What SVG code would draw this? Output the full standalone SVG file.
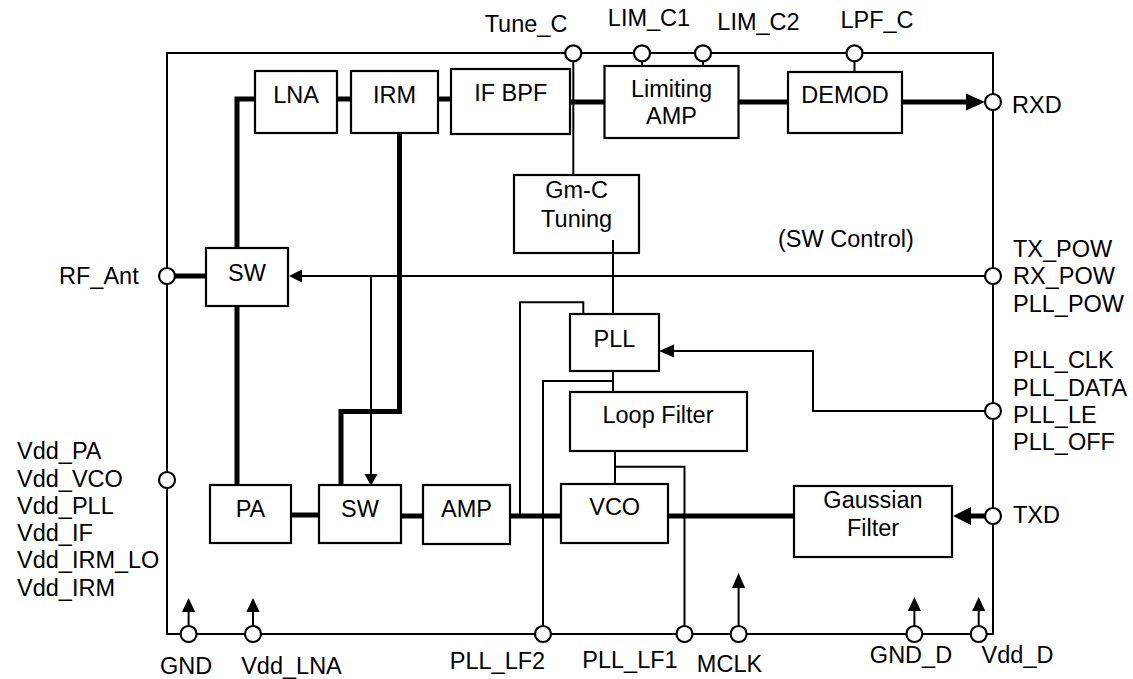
<svg xmlns="http://www.w3.org/2000/svg" width="1133" height="679" viewBox="0 0 1133 679">
<style>
text{font-family:"Liberation Sans",Arial,sans-serif;font-size:23.5px;fill:#000}
.m{text-anchor:middle}
.b{fill:#fff;stroke:#000;stroke-width:2.2}
.t{fill:none;stroke:#000;stroke-width:2}
.k{fill:none;stroke:#000;stroke-width:5}
.p{fill:#fff;stroke:#000;stroke-width:2.2}
.a{fill:#000;stroke:none}
</style>
<rect x="167" y="53" width="826" height="581" class="t"/>
<g id="connectors">
<path class="k" d="M255,99 H237 V248"/>
<path class="k" d="M337,99 H351"/>
<path class="k" d="M438,99 H451"/>
<path class="k" d="M570,102 H604.5"/>
<path class="k" d="M738.5,102 H788"/>
<path class="k" d="M902,102 H968"/>
<polygon class="a" points="966,93.5 985,102 966,110.5"/>
<path class="k" d="M175,276 H206"/>
<path class="k" d="M237,306 V485"/>
<path class="k" d="M399.5,133 V411.5 H341 V485"/>
<path class="k" d="M291,515 H319"/>
<path class="k" d="M401,516 H423"/>
<path class="k" d="M510,516 H561"/>
<path class="k" d="M668,516 H794"/>
<path class="k" d="M985,516 H969"/>
<polygon class="a" points="971,507 953,516 971,525"/>
<path class="t" d="M573.3,61.5 V175"/>
<path class="t" d="M642,61.5 V66"/>
<path class="t" d="M703,61.5 V66"/>
<path class="t" d="M854.5,61.5 V72"/>
<path class="t" d="M985,276 H301"/>
<polygon class="a" points="302,269.5 289,276 302,282.5"/>
<path class="t" d="M371,276 V475"/>
<polygon class="a" points="364.5,474 377.5,474 371,486"/>
<path class="t" d="M613,240 V314"/>
<path class="t" d="M520,516 V302.3 H583.3 V314"/>
<path class="t" d="M613,371 V392"/>
<path class="t" d="M543,626 V381 H613"/>
<path class="t" d="M615,451 V484"/>
<path class="t" d="M615,466.7 H684.5 V626"/>
<path class="t" d="M985,411 H813 V351 H673"/>
<polygon class="a" points="674,344.5 659,351 674,357.5"/>
<path class="t" d="M188.6,626 V611"/>
<polygon class="a" points="182,612 195.2,612 188.6,598"/>
<path class="t" d="M253,626 V611"/>
<polygon class="a" points="246.4,612 259.6,612 253,598"/>
<path class="t" d="M738.6,626 V587"/>
<polygon class="a" points="732,588 745.2,588 738.6,573"/>
<path class="t" d="M914.4,626 V610"/>
<polygon class="a" points="907.8,611 921,611 914.4,597"/>
<path class="t" d="M978.7,626 V610"/>
<polygon class="a" points="972.1,611 985.3,611 978.7,597"/>
</g>
<g id="LNA"><rect class="b" x="255" y="71" width="82" height="62"/><text class="m" x="296" y="103">LNA</text></g>
<g id="IRM"><rect class="b" x="351" y="71" width="87" height="62"/><text class="m" x="394.5" y="103">IRM</text></g>
<g id="IFBPF"><rect class="b" x="451" y="69" width="119" height="65"/><text class="m" x="510.7" y="101">IF BPF</text></g>
<g id="LimitingAMP"><rect class="b" x="604.5" y="66" width="134" height="72"/><text class="m" x="671.5" y="97">Limiting</text><text class="m" x="671.5" y="124">AMP</text></g>
<g id="DEMOD"><rect class="b" x="788" y="72" width="114" height="61"/><text class="m" x="845" y="103">DEMOD</text></g>
<g id="GmC"><rect class="b" x="514" y="175" width="125" height="78"/><text class="m" x="576.6" y="198">Gm-C</text><text class="m" x="576.6" y="227">Tuning</text><path class="t" d="M613,240 V253"/></g>
<g id="SW1"><rect class="b" x="206" y="248" width="82" height="58"/><text class="m" x="247" y="281">SW</text></g>
<g id="PLL"><rect class="b" x="570" y="314" width="89" height="57"/><text class="m" x="614.5" y="347">PLL</text></g>
<g id="LoopFilter"><rect class="b" x="570" y="392" width="177" height="59"/><text class="m" x="658" y="423">Loop Filter</text></g>
<g id="PA"><rect class="b" x="210" y="485" width="81" height="58"/><text class="m" x="250.5" y="517">PA</text></g>
<g id="SW2"><rect class="b" x="319" y="485" width="82" height="58"/><text class="m" x="360" y="517">SW</text></g>
<g id="AMP"><rect class="b" x="423" y="485" width="87" height="59"/><text class="m" x="466.5" y="517">AMP</text></g>
<g id="VCO"><rect class="b" x="561" y="484" width="107" height="59"/><text class="m" x="614.7" y="515">VCO</text></g>
<g id="Gaussian"><rect class="b" x="794" y="486" width="158" height="71"/><text class="m" x="873" y="508">Gaussian</text><text class="m" x="873" y="536">Filter</text></g>
<g id="pins">
<circle class="p" cx="573.3" cy="53.3" r="8"/>
<circle class="p" cx="642" cy="53.3" r="8"/>
<circle class="p" cx="703" cy="53.3" r="8"/>
<circle class="p" cx="854.5" cy="53.3" r="8"/>
<circle class="p" cx="993" cy="102" r="8"/>
<circle class="p" cx="993" cy="276" r="8"/>
<circle class="p" cx="993" cy="411" r="8"/>
<circle class="p" cx="993" cy="516" r="8"/>
<circle class="p" cx="167" cy="276" r="8"/>
<circle class="p" cx="167" cy="480" r="8"/>
<circle class="p" cx="188.6" cy="634" r="8"/>
<circle class="p" cx="253" cy="634" r="8"/>
<circle class="p" cx="543" cy="634" r="8"/>
<circle class="p" cx="684.5" cy="634" r="8"/>
<circle class="p" cx="738.6" cy="634" r="8"/>
<circle class="p" cx="914.4" cy="634" r="8"/>
<circle class="p" cx="978.7" cy="634" r="8"/>
</g>
<g id="labels">
<text class="m" x="526" y="32">Tune_C</text>
<text class="m" x="649" y="26">LIM_C1</text>
<text class="m" x="758.5" y="29.5">LIM_C2</text>
<text class="m" x="877" y="27.5">LPF_C</text>
<text x="1012" y="113">RXD</text>
<text x="59" y="284">RF_Ant</text>
<text x="778" y="247">(SW Control)</text>
<text x="1013" y="257">TX_POW</text>
<text x="1013" y="284">RX_POW</text>
<text x="1013" y="312">PLL_POW</text>
<text x="1013" y="368">PLL_CLK</text>
<text x="1013" y="396">PLL_DATA</text>
<text x="1013" y="423">PLL_LE</text>
<text x="1013" y="450">PLL_OFF</text>
<text x="1013" y="523">TXD</text>
<text x="17" y="459">Vdd_PA</text>
<text x="17" y="487">Vdd_VCO</text>
<text x="17" y="514">Vdd_PLL</text>
<text x="17" y="541">Vdd_IF</text>
<text x="17" y="568">Vdd_IRM_LO</text>
<text x="17" y="596">Vdd_IRM</text>
<text class="m" x="186" y="674">GND</text>
<text class="m" x="291.5" y="674">Vdd_LNA</text>
<text class="m" x="497.5" y="669">PLL_LF2</text>
<text class="m" x="630" y="668">PLL_LF1</text>
<text class="m" x="729.5" y="672">MCLK</text>
<text class="m" x="911" y="663">GND_D</text>
<text class="m" x="1017.5" y="663">Vdd_D</text>
</g>
</svg>
